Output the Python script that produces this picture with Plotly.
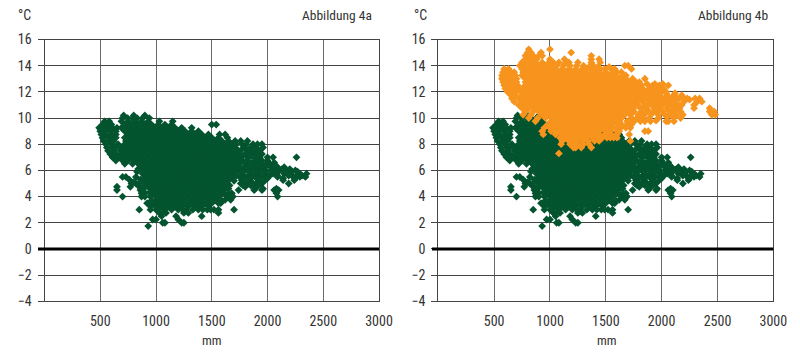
import plotly.graph_objects as go

X_TICKS = [500, 1000, 1500, 2000, 2500, 3000]
Y_TICKS = [-4, -2, 0, 2, 4, 6, 8, 10, 12, 14, 16]
GREEN = "#03542f"
ORANGE = "#f7941d"

green_y = [10.2, 10.0, 9.75, 9.5, 9.25, 9.0, 8.75, 8.5, 8.25, 8.0, 7.75, 7.5, 7.25, 7.0, 6.75, 6.5, 6.25, 6.0,
           5.75, 5.5, 5.25, 5.0, 4.75, 4.5, 4.25, 4.0, 3.75, 3.5, 3.25, 3.0, 2.75, 2.5, 2.25, 2.0, 1.75]
green_x = [
    [710, 800, 900],
    [700, 745, 790, 830, 880, 940],
    [540, 580, 690, 750, 810, 870, 930, 1030, 1150],
    [520, 560, 600, 720, 780, 840, 900, 960, 1020, 1080, 1140, 1500, 1540],
    [490, 530, 570, 610, 650, 690, 750, 810, 870, 930, 990, 1050, 1110, 1170, 1230, 1320],
    [500, 540, 590, 640, 720, 780, 840, 900, 960, 1020, 1080, 1140, 1200, 1260, 1320, 1380],
    [510, 550, 600, 640, 750, 810, 870, 930, 990, 1050, 1110, 1170, 1230, 1290, 1350, 1410, 1470, 1570, 1620],
    [520, 570, 610, 640, 720, 780, 840, 900, 960, 1020, 1080, 1140, 1200, 1260, 1320, 1380, 1440, 1500, 1560, 1640],
    [530, 580, 620, 730, 750, 810, 870, 930, 990, 1050, 1110, 1170, 1230, 1290, 1350, 1410, 1470, 1530, 1590, 1650, 1710, 1760, 1820],
    [550, 600, 660, 720, 780, 840, 900, 960, 1020, 1080, 1140, 1200, 1260, 1320, 1380, 1440, 1500, 1560, 1620, 1680, 1720, 1770, 1810, 1870, 1910, 1950],
    [560, 610, 640, 690, 750, 810, 870, 930, 990, 1050, 1110, 1170, 1230, 1290, 1350, 1410, 1470, 1530, 1590, 1650, 1710, 1790, 1850, 1900, 1960],
    [570, 620, 680, 720, 780, 840, 900, 960, 1020, 1080, 1140, 1200, 1260, 1320, 1380, 1440, 1500, 1560, 1620, 1680, 1740, 1820, 1880, 1930],
    [590, 640, 690, 750, 810, 870, 930, 990, 1050, 1110, 1170, 1230, 1290, 1350, 1410, 1470, 1530, 1590, 1650, 1710, 1750, 1800, 1850, 1900, 1950],
    [610, 670, 720, 780, 840, 900, 960, 1020, 1080, 1140, 1200, 1260, 1320, 1380, 1440, 1500, 1560, 1620, 1680, 1740, 1820, 1880, 1930, 2000, 2050, 2260],
    [640, 700, 750, 810, 870, 930, 990, 1050, 1110, 1170, 1230, 1290, 1350, 1410, 1470, 1530, 1590, 1650, 1710, 1770, 1820, 1900, 1950, 2000],
    [720, 790, 840, 900, 960, 1020, 1080, 1140, 1200, 1260, 1320, 1380, 1440, 1500, 1560, 1620, 1680, 1740, 1820, 1880, 1940, 1990, 2020],
    [870, 930, 990, 1050, 1110, 1170, 1230, 1290, 1350, 1410, 1470, 1530, 1590, 1650, 1710, 1760, 1800, 1880, 1930, 1960, 2030, 2090, 2150],
    [880, 900, 960, 1020, 1080, 1140, 1200, 1260, 1320, 1380, 1440, 1500, 1560, 1620, 1680, 1730, 1790, 1850, 1920, 1980, 2030, 2110, 2170, 2250],
    [880, 930, 990, 1050, 1110, 1170, 1230, 1290, 1350, 1410, 1470, 1530, 1590, 1650, 1700, 1770, 1850, 1910, 1990, 2050, 2150, 2200, 2290, 2350],
    [700, 730, 820, 900, 960, 1020, 1080, 1140, 1200, 1260, 1320, 1380, 1440, 1500, 1560, 1620, 1680, 1750, 1820, 1890, 1970, 2090, 2230, 2290, 2340],
    [910, 930, 990, 1050, 1110, 1170, 1230, 1290, 1350, 1410, 1470, 1530, 1590, 1650, 1770, 1840, 1920, 1980, 2140, 2240],
    [780, 820, 910, 960, 1020, 1080, 1140, 1200, 1260, 1320, 1380, 1440, 1500, 1560, 1620, 1640, 1760, 1830, 1900, 1950, 2190],
    [650, 770, 850, 930, 990, 1050, 1110, 1170, 1230, 1290, 1350, 1410, 1470, 1530, 1590, 1630, 1800, 1890],
    [650, 860, 960, 1020, 1080, 1140, 1200, 1260, 1320, 1380, 1440, 1500, 1560, 1610, 1740, 1880, 1950, 2060, 2100],
    [870, 970, 990, 1050, 1110, 1170, 1230, 1290, 1350, 1410, 1470, 1530, 1590, 1680, 2080],
    [700, 870, 1000, 1020, 1080, 1140, 1200, 1260, 1320, 1380, 1440, 1500, 1560, 1650, 1690, 2090],
    [1000, 1050, 1110, 1170, 1230, 1290, 1350, 1410, 1470, 1530, 1620, 1670],
    [920, 1020, 1080, 1140, 1200, 1260, 1320, 1380, 1440, 1500, 1580],
    [950, 1050, 1110, 1170, 1230, 1290, 1350, 1410, 1470],
    [850, 950, 1020, 1080, 1140, 1200, 1270, 1380, 1460, 1520, 1560, 1700],
    [1030, 1090, 1250, 1290, 1560],
    [1050, 1180, 1410],
    [970, 1000, 1200],
    [1060, 1080, 1230, 1250],
    [930],
]

# Scattered points at the rim of the green cloud.
green_rim_y = [7.6, 7.1, 6.9, 6.6, 6.4, 6.1, 5.9, 5.6, 5.4, 5.3, 5.2, 5.1, 4.85, 4.7, 4.6, 4.3, 4.2, 4.0, 3.7, 3.5, 3.25, 3.0, 2.75]
green_rim_x = [
    [1770, 1870],
    [1780, 1850, 1910],
    [790, 820],
    [1790, 1860, 1930, 2060],
    [1840, 1920, 1990, 2070],
    [840, 1810, 1880, 1960, 2070, 2130, 2200],
    [830, 1760, 1830, 1900, 1960, 2090, 2160, 2220, 2270],
    [1720, 1790, 1860, 1930, 2020, 2090, 2190, 2260, 2310],
    [1790, 1850, 1920, 2000, 2140, 2250],
    [760, 860, 880],
    [1700],
    [800, 860, 1790, 1860, 1940],
    [1660, 1780, 1850, 1920],
    [880, 900],
    [1650, 1890, 1960, 2080],
    [900, 940],
    [1620, 1650],
    [900, 950],
    [960, 1590],
    [970, 1560],
    [1000],
    [1000, 1240, 1330, 1420, 1490],
    [1060],
]

orange_y = [15.25, 15.0, 14.75, 14.5, 14.25, 14.0, 13.75, 13.5, 13.25, 13.0, 12.75, 12.5, 12.25, 12.0, 11.75, 11.5, 11.25,
            11.0, 10.75, 10.5, 10.25, 10.0, 9.75, 9.5, 9.25, 9.0, 8.75, 8.5, 8.25, 8.0, 7.75, 7.3]
orange_x = [
    [810, 1000],
    [800, 830, 920, 1190],
    [780, 810, 850, 900, 930, 1370],
    [780, 840, 880, 1000, 1130, 1370, 1440],
    [750, 810, 870, 930, 990, 1030, 1080, 1140, 1170, 1250, 1370, 1450],
    [730, 780, 840, 900, 960, 1020, 1060, 1120, 1180, 1240, 1300, 1390, 1670, 1700],
    [590, 630, 750, 810, 870, 930, 990, 1050, 1110, 1170, 1230, 1290, 1320, 1360, 1410, 1450, 1490, 1550, 1580, 1730],
    [580, 620, 650, 680, 760, 780, 840, 900, 960, 1020, 1080, 1140, 1200, 1260, 1320, 1380, 1440, 1500, 1560, 1600, 1640],
    [570, 610, 650, 690, 750, 810, 870, 930, 990, 1050, 1110, 1170, 1230, 1290, 1350, 1410, 1470, 1530, 1590, 1650, 1680],
    [570, 610, 650, 700, 780, 840, 900, 960, 1020, 1080, 1140, 1200, 1260, 1320, 1380, 1440, 1500, 1560, 1620, 1680, 1740, 1850],
    [580, 620, 660, 700, 780, 810, 870, 930, 990, 1050, 1110, 1170, 1230, 1290, 1350, 1410, 1470, 1530, 1590, 1650, 1710, 1770, 1800],
    [590, 630, 670, 710, 780, 840, 900, 960, 1020, 1080, 1140, 1200, 1260, 1320, 1380, 1440, 1500, 1560, 1620, 1680, 1740, 1800, 1820, 1920, 1980, 2060],
    [600, 640, 680, 720, 750, 810, 870, 930, 990, 1050, 1110, 1170, 1230, 1290, 1350, 1410, 1470, 1530, 1590, 1650, 1710, 1770, 1830, 1890, 1960, 2020],
    [620, 660, 700, 740, 780, 840, 900, 960, 1020, 1080, 1140, 1200, 1260, 1320, 1380, 1440, 1500, 1560, 1620, 1680, 1740, 1800, 1860, 1880, 1960, 2000, 2040],
    [650, 690, 750, 810, 870, 930, 990, 1050, 1110, 1170, 1230, 1290, 1350, 1410, 1470, 1530, 1590, 1650, 1710, 1770, 1830, 1890, 1950, 2050, 2110, 2180],
    [660, 720, 780, 840, 900, 960, 1020, 1080, 1140, 1200, 1260, 1320, 1380, 1440, 1500, 1560, 1620, 1680, 1740, 1800, 1860, 1920, 1950, 2010, 2100, 2160, 2230, 2300, 2340],
    [680, 750, 810, 870, 930, 990, 1050, 1110, 1170, 1230, 1290, 1350, 1410, 1470, 1530, 1590, 1650, 1710, 1770, 1830, 1890, 1990, 2080, 2200, 2320, 2360],
    [720, 780, 840, 900, 960, 1020, 1080, 1140, 1200, 1260, 1320, 1380, 1440, 1500, 1560, 1620, 1680, 1740, 1790, 1870, 2010, 2060, 2150, 2180, 2290],
    [750, 810, 870, 930, 990, 1050, 1110, 1170, 1230, 1290, 1350, 1410, 1470, 1530, 1590, 1650, 1710, 1750, 1810, 1860, 1980, 2050, 2130, 2160, 2290, 2430],
    [780, 850, 900, 960, 1020, 1080, 1140, 1200, 1260, 1320, 1380, 1440, 1500, 1560, 1620, 1680, 1700, 1750, 1820, 1950, 2010, 2090, 2170, 2430, 2470],
    [760, 830, 930, 990, 1050, 1110, 1170, 1230, 1290, 1350, 1410, 1470, 1530, 1590, 1650, 1670, 1720, 1790, 1970, 2030, 2130, 2190, 2450, 2480],
    [810, 890, 960, 1020, 1080, 1140, 1200, 1260, 1320, 1380, 1440, 1500, 1560, 1620, 1640, 1730, 1780, 1890, 1970, 2110, 2170],
    [870, 1010, 1050, 1110, 1170, 1230, 1290, 1350, 1410, 1470, 1530, 1590, 1620, 1690, 1720, 1810, 1850, 1900, 2040, 2060, 2110],
    [980, 1020, 1080, 1140, 1200, 1260, 1320, 1380, 1440, 1500, 1560, 1620, 1640, 1690, 1730],
    [950, 1000, 1050, 1110, 1170, 1230, 1290, 1350, 1410, 1470, 1530, 1560, 1600, 1680, 1720],
    [930, 1010, 1040, 1080, 1140, 1200, 1260, 1320, 1380, 1440, 1500, 1540, 1600, 1620, 1850, 1880],
    [940, 1050, 1110, 1170, 1230, 1290, 1350, 1410, 1440, 1490, 1520, 1550, 1600, 1710],
    [1090, 1140, 1200, 1260, 1320, 1380, 1400, 1440, 1470, 1510, 1540, 1570, 1600],
    [1110, 1170, 1230, 1290, 1340, 1400, 1440, 1720],
    [1100, 1180, 1200, 1250, 1300, 1350],
    [1210, 1230, 1280, 1370],
    [1080],
]

# Scattered points at the rim of the orange cloud.
orange_rim_y = [13.9, 12.6, 12.1, 11.9, 11.6, 11.4, 11.1, 10.9, 10.6, 10.3, 10.1, 9.8, 9.3]
orange_rim_x = [
    [1350, 1430, 1530],
    [1870, 1940, 2010],
    [1920, 1990],
    [1920, 2040, 2120],
    [1980, 2060, 2130, 2190],
    [1950, 2030, 2120, 2250],
    [1920, 1960, 2040, 2130],
    [1850, 1920, 1960, 2100],
    [1880, 1940, 2060, 2120],
    [1850, 1910, 2080],
    [1830, 2050],
    [1760, 1950],
    [1640],
]


def flatten(ys, xs):
    out_x, out_y = [], []
    for y, row in zip(ys, xs):
        for x in row:
            out_x.append(x)
            out_y.append(y)
    return out_x, out_y


gx, gy = flatten(green_y + green_rim_y, green_x + green_rim_x)
ox, oy = flatten(orange_y + orange_rim_y, orange_x + orange_rim_x)

# The page body keeps its default 8 px margin, so the figure is placed inside it.
PAGE_MARGIN = 8
W, H = 784, 340


def fx(px):
    return (px - PAGE_MARGIN) / W


def fy(py):
    return 1 - (py - PAGE_MARGIN) / H


marker_g = dict(symbol="diamond", size=6, color=GREEN, line=dict(width=0))
marker_o = dict(symbol="diamond", size=6, color=ORANGE, line=dict(width=0))

fig = go.Figure()
fig.add_trace(go.Scatter(x=gx, y=gy, mode="markers", marker=marker_g, xaxis="x", yaxis="y", showlegend=False))
fig.add_trace(go.Scatter(x=gx, y=gy, mode="markers", marker=marker_g, xaxis="x2", yaxis="y2", showlegend=False))
fig.add_trace(go.Scatter(x=ox, y=oy, mode="markers", marker=marker_o, xaxis="x2", yaxis="y2", showlegend=False))

FONT = "Roboto Condensed, DejaVu Sans Condensed, Roboto, sans-serif"
TXT = "#333333"


def xaxis(x0, x1, anchor):
    return dict(domain=[fx(x0), fx(x1)], range=[0, 3000], anchor=anchor, tickvals=X_TICKS, automargin=False,
                showgrid=True, gridcolor="#6a6a6a", gridwidth=1, zeroline=False,
                showline=True, linecolor="#444444", linewidth=1, mirror=True,
                ticks="", ticklen=0, ticklabelstandoff=7, tickfont=dict(family=FONT, size=14, color=TXT), fixedrange=True)


def yaxis(anchor):
    return dict(domain=[fy(301.3), fy(39.5)], range=[-4, 16], anchor=anchor, tickvals=Y_TICKS, automargin=False,
                showgrid=True, gridcolor="#444444", gridwidth=1, zeroline=False,
                showline=True, linecolor="#444444", linewidth=1, mirror=True,
                ticks="outside", ticklen=6, tickcolor="#444444", tickwidth=1, ticklabelstandoff=3,
                tickfont=dict(family=FONT, size=14, color=TXT), fixedrange=True)


def note(px, py, text, anchor, size=14):
    return dict(xref="paper", yref="paper", x=fx(px), y=fy(py), text=text, showarrow=False,
                xanchor=anchor, yanchor="middle", font=dict(family=FONT, size=size, color=TXT))


def zero_line(x0, x1, yref):
    return dict(type="line", xref="paper", yref=yref, x0=fx(x0), x1=fx(x1), y0=0, y1=0,
                line=dict(color="#000000", width=3), layer="above")


fig.update_layout(
    width=W, height=H, autosize=False, margin=dict(l=0, r=0, t=0, b=0),
    paper_bgcolor="white", plot_bgcolor="white",
    xaxis=xaxis(44.5, 379, "y"), yaxis=yaxis("x"),
    xaxis2=xaxis(438.3, 773.3, "y2"), yaxis2=yaxis("x2"),
    shapes=[zero_line(38, 379, "y"), zero_line(432, 773.3, "y2")],
    annotations=[
        note(24.5, 15, "°C", "center", 14),
        note(373.5, 15, "Abbildung 4a", "right", 13.5),
        note(212.5, 340, "mm", "center", 13),
        note(420.5, 15, "°C", "center", 14),
        note(769.5, 15, "Abbildung 4b", "right", 13.5),
        note(607, 340, "mm", "center", 13),
    ],
)
fig.write_html("out.html")
